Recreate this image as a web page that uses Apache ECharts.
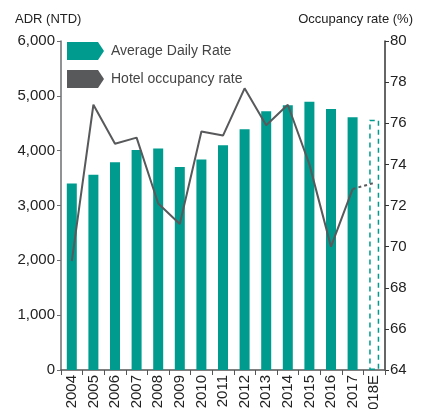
<!DOCTYPE html>
<html>
<head>
<meta charset="utf-8">
<script src="https://cdn.jsdelivr.net/npm/echarts@6/dist/echarts.min.js"></script>
<style>
  html, body { margin: 0; padding: 0; background: #fff; }
  #chart { width: 422px; height: 409px; }
</style>
</head>
<body>
<div id="chart"></div>
<script>
const years = ['2004', '2005', '2006', '2007', '2008', '2009', '2010', '2011', '2012', '2013', '2014', '2015', '2016', '2017', '2018E']
const adrValues = [3400, 3560, 3790, 4010, 4040, 3700, 3840, 4100, 4390, 4720, 4830, 4890, 4760, 4610, 4565]
const occupancyValues = [69.3, 76.9, 75.0, 75.3, 72.1, 71.1, 75.6, 75.4, 77.7, 75.9, 76.9, 74.0, 70.0, 72.8, 73.1]
const adrTicks = [0, 6000, 1000]
const occTicks = [64, 80, 2]

const teal = '#009b8f'
const gray = '#58595b'
const font = 'Liberation Sans'
const lastIdx = years.length - 1

const chart = echarts.init(document.getElementById('chart'))

// bars: last one is an estimate, drawn as dashed outline
const barData = adrValues.map((v, i) => {
  if (i === lastIdx) {
    return {
      value: v,
      itemStyle: { color: 'rgba(0,0,0,0)', borderColor: teal, borderWidth: 1.5, borderType: [5, 4] }
    }
  }
  return v
})
const solidLine = occupancyValues.map((v, i) => (i < lastIdx ? v : null))
const dashLine = occupancyValues.map((v, i) => (i >= lastIdx - 1 ? v : null))

const arrowIcon = 'path://M0,0 L31,0 L37,9 L31,18 L0,18 Z'

chart.setOption({
  animation: false,
  backgroundColor: '#fff',
  textStyle: { fontFamily: font },
  grid: { left: 61, right: 37, top: 41, bottom: 39, containLabel: false, outerBoundsMode: 'none' },
  legend: {
    orient: 'vertical',
    left: 67,
    top: 42,
    padding: 0,
    itemWidth: 37,
    itemHeight: 18,
    itemGap: 10,
    textStyle: { fontFamily: font, fontSize: 14, color: '#444', padding: [0, 0, 0, 2] },
    data: [
      { name: 'Average Daily Rate', icon: arrowIcon },
      { name: 'Hotel occupancy rate', icon: arrowIcon }
    ]
  },
  graphic: [
    { type: 'text', left: 15, top: 13, style: { text: 'ADR (NTD)', font: '13px "Liberation Sans"', fill: '#222' } },
    { type: 'text', right: 9, top: 13, style: { text: 'Occupancy rate (%)', font: '13px "Liberation Sans"', fill: '#222' } }
  ],
  xAxis: {
    type: 'category',
    data: years,
    axisLine: { lineStyle: { color: '#555', width: 1.5 } },
    axisTick: { show: true, length: 5, lineStyle: { color: '#555' } },
    axisLabel: { rotate: 90, fontSize: 15, color: '#222', margin: 5, interval: 0 },
    splitLine: { show: false }
  },
  yAxis: [
    {
      type: 'value',
      min: adrTicks[0],
      max: adrTicks[1],
      interval: adrTicks[2],
      axisLine: { show: true, lineStyle: { color: '#6d6e71', width: 1.5 } },
      axisTick: { show: true, length: 4, lineStyle: { color: '#6d6e71' } },
      axisLabel: {
        fontSize: 15,
        color: '#222',
        margin: 6,
        formatter: v => v.toLocaleString('en-US')
      },
      splitLine: { show: false }
    },
    {
      type: 'value',
      min: occTicks[0],
      max: occTicks[1],
      interval: occTicks[2],
      axisLine: { show: true, lineStyle: { color: '#333', width: 1.5 } },
      axisTick: { show: true, length: 4, lineStyle: { color: '#333' } },
      axisLabel: { fontSize: 15, color: '#222', margin: 5 },
      splitLine: { show: false }
    }
  ],
  series: [
    {
      name: 'Average Daily Rate',
      type: 'bar',
      barWidth: 10,
      itemStyle: { color: teal },
      data: barData
    },
    {
      name: 'Hotel occupancy rate',
      type: 'line',
      yAxisIndex: 1,
      symbol: 'none',
      itemStyle: { color: gray },
      lineStyle: { color: gray, width: 2 },
      data: solidLine
    },
    {
      name: 'occupancy estimate',
      type: 'line',
      yAxisIndex: 1,
      symbol: 'none',
      lineStyle: { color: gray, width: 2, type: [3, 3] },
      data: dashLine
    }
  ]
})
</script>
</body>
</html>
